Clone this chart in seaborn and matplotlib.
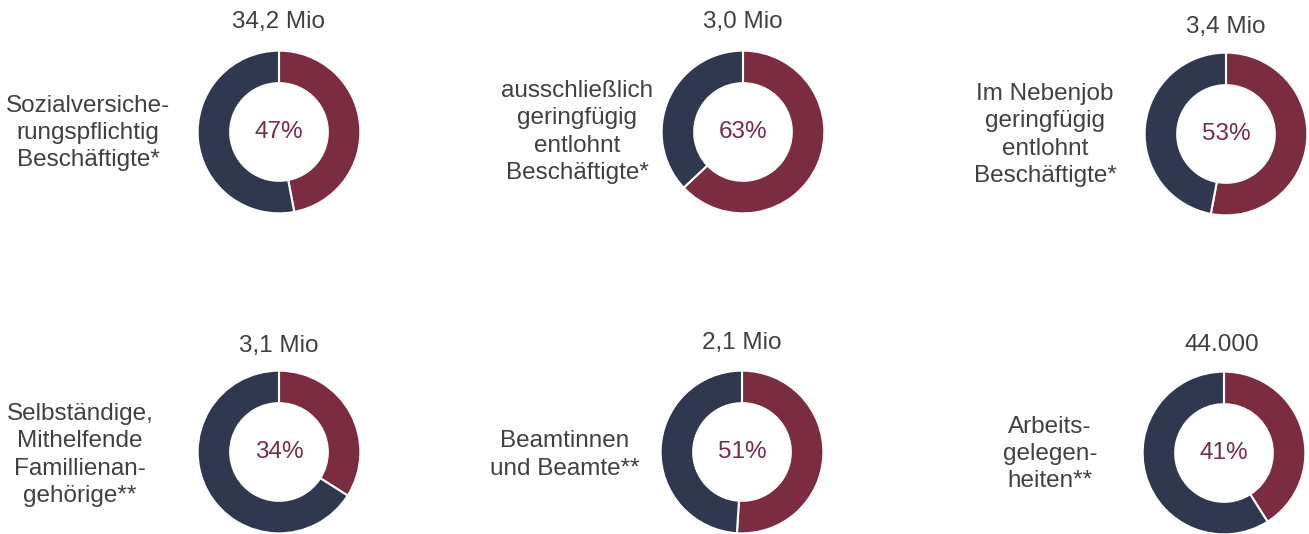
import matplotlib
matplotlib.use("Agg")
import matplotlib.pyplot as plt
import seaborn as sns

# data
labels = [
    "Sozialversiche-\nrungspflichtig\nBeschäftigte*",
    "ausschließlich\ngeringfügig\nentlohnt\nBeschäftigte*",
    "Im Nebenjob\ngeringfügig\nentlohnt\nBeschäftigte*",
    "Selbständige,\nMithelfende\nFamillienan-\ngehörige**",
    "Beamtinnen\nund Beamte**",
    "Arbeits-\ngelegen-\nheiten**",
]
totals = ["34,2 Mio", "3,0 Mio", "3,4 Mio", "3,1 Mio", "2,1 Mio", "44.000"]
women_share = [47, 63, 53, 34, 51, 41]

# layout in pixels (figure 1309x534)
W, H = 1309, 534
centers = [(279, 132), (743, 132), (1226, 134), (279, 452), (742, 452), (1224, 453)]
label_pos = [(88, 133), (577, 132), (1045, 135), (80, 455), (565, 455), (1050, 454)]
total_pos = [(279, 22), (743, 22), (1226, 27), (279, 346), (742, 343), (1222, 345)]
R = 83

RED = "#7b2c40"
NAVY = "#2f384e"
GREY = "#404040"

sns.set_theme(style="white")
plt.rcParams["font.family"] = ["Liberation Sans", "DejaVu Sans"]

fig = plt.figure(figsize=(W / 100, H / 100), dpi=100)

for i in range(len(labels)):
    cx, cy = centers[i]
    ax = fig.add_axes([(cx - R) / W, (H - cy - R) / H, 2 * R / W, 2 * R / H])
    share = women_share[i]
    ax.pie(
        [share, 100 - share], colors=[RED, NAVY], startangle=90, counterclock=False,
        radius=1, wedgeprops=dict(width=0.4, edgecolor="white", linewidth=1.5),
    )
    ax.set_xlim(-1.02, 1.02)
    ax.set_ylim(-1.02, 1.02)
    ax.set_aspect("equal")
    ax.axis("off")
    ax.text(0, 0, f"{share}%", ha="center", va="center", fontsize=17.5, color=RED)

    lx, ly = label_pos[i]
    fig.text(lx / W, 1 - ly / H, labels[i], ha="center", va="center",
             fontsize=17.5, color=GREY, linespacing=1.3)
    tx, ty = total_pos[i]
    fig.text(tx / W, 1 - ty / H, totals[i], ha="center", va="center",
             fontsize=17.5, color=GREY)

fig.savefig("out.png", dpi=100)
plt.close(fig)
